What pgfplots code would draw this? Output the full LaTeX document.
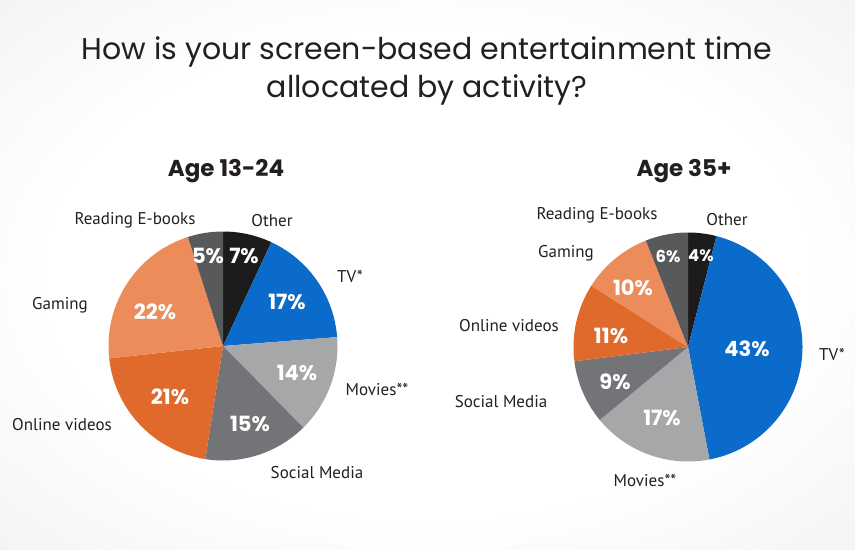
\documentclass[border=0pt]{standalone}
\usepackage{pgfplots}
\pgfplotsset{compat=1.18}
\usepackage{pgfplotstable}
\usepackage{fontspec}
\setmainfont{PT Sans}
\newfontfamily\popp{Poppins}

\definecolor{cTV}{HTML}{0B6BCB}
\definecolor{cMovies}{HTML}{A6A7A9}
\definecolor{cSocial}{HTML}{737477}
\definecolor{cOnline}{HTML}{DF6A2B}
\definecolor{cGaming}{HTML}{EB8C5A}
\definecolor{cReading}{HTML}{58595B}
\definecolor{cOther}{HTML}{1D1B1B}
\definecolor{txt}{HTML}{231F20}

% label, share (%), colour, label position (x,y), percent position (x,y) in picture pixels, percent font size
\pgfplotstableread[col sep=comma]{
label,pct,col,lx,ly,px,py,fs
Other,7,cOther,272,221,244,256,21
TV*,17,cTV,350,277,287,302,21
Movies**,14,cMovies,377,390,297,373,21
Social Media,15,cSocial,317,473,250,424,21
Online videos,21,cOnline,62,425,170,397,21
Gaming,22,cGaming,60,305,155,312,21
Reading E-books,5,cReading,135,220,208,256,21
}\youngdata

\pgfplotstableread[col sep=comma]{
label,pct,col,lx,ly,px,py,fs
Other,4,cOther,727,220,701,256,16.5
TV*,43,cTV,832,355,747,349,21
Movies**,17,cMovies,645,481,662,418,21
Social Media,9,cSocial,501,402,615,382,21
Online videos,11,cOnline,509,326,611,336,21
Gaming,10,cGaming,566,253,633,288,21
Reading E-books,6,cReading,597,215,668,256,16.5
}\olddata

\pgfdeclareradialshading{bgshade}{\pgfpoint{0bp}{0bp}}{%
  color(0bp)=(white); color(22bp)=(white); color(50bp)=(black!9); color(72bp)=(black!14)}

\tikzset{
  lab/.style={font=\fontsize{17bp}{20bp}\selectfont, text=txt, inner sep=0pt, anchor=center},
  pct/.style={font=\popp\bfseries\fontsize{#1bp}{#1bp}\selectfont, text=white, inner sep=0pt, anchor=center},
}

% #1 table, #2 centre x, #3 centre y, #4 radius
\newcommand\drawpie[4]{%
  \pgfplotstablegetrowsof{#1}%
  \pgfmathtruncatemacro\lastrow{\pgfplotsretval-1}%
  \def\tot{0}%
  \pgfplotsforeachungrouped \i in {0,...,\lastrow}{%
    \pgfplotstablegetelem{\i}{pct}\of{#1}%
    \pgfmathsetmacro\tot{\tot+\pgfplotsretval}}%
  \def\cum{0}%
  \pgfplotsforeachungrouped \i in {0,...,\lastrow}{%
    \pgfplotstablegetelem{\i}{pct}\of{#1}\let\pv\pgfplotsretval
    \pgfplotstablegetelem{\i}{col}\of{#1}\let\pc\pgfplotsretval
    \pgfmathsetmacro\sa{90-360*(\cum/\tot)}%
    \pgfmathsetmacro\cum{\cum+\pv}%
    \pgfmathsetmacro\ea{90-360*(\cum/\tot)}%
    \edef\tmp{\noexpand\fill[\pc] (axis cs:#2,#3) -- ++(\sa:#4) arc[start angle=\sa, end angle=\ea, radius=#4] -- cycle;}%
    \tmp
  }%
  \pgfplotsforeachungrouped \i in {0,...,\lastrow}{%
    \pgfplotstablegetelem{\i}{pct}\of{#1}\let\pv\pgfplotsretval
    \pgfplotstablegetelem{\i}{label}\of{#1}\let\plab\pgfplotsretval
    \pgfplotstablegetelem{\i}{lx}\of{#1}\let\plx\pgfplotsretval
    \pgfplotstablegetelem{\i}{ly}\of{#1}\let\ply\pgfplotsretval
    \pgfplotstablegetelem{\i}{px}\of{#1}\let\ppx\pgfplotsretval
    \pgfplotstablegetelem{\i}{py}\of{#1}\let\ppy\pgfplotsretval
    \pgfplotstablegetelem{\i}{fs}\of{#1}\let\pfs\pgfplotsretval
    \edef\tmp{\noexpand\node[lab] at (axis cs:\plx,\ply) {\plab};
      \noexpand\node[pct=\pfs] at (axis cs:\ppx,\ppy) {\pv\noexpand\%};}%
    \tmp
  }%
}

\begin{document}
\begin{tikzpicture}
\useasboundingbox (0,0) rectangle (855bp,550bp);
\shade[shading=bgshade] (0,0) rectangle (855bp,550bp);
\begin{axis}[
  at={(0,0)}, anchor=south west,
  width=855bp, height=550bp, scale only axis,
  xmin=0, xmax=855, ymin=0, ymax=550, y dir=reverse,
  hide axis, clip=false,
]
\node[font=\popp\fontsize{30bp}{38bp}\selectfont, text=txt, align=center, anchor=center]
  at (axis cs:427,71) {How is your screen-based entertainment time\\allocated by activity?};
\node[font=\popp\bfseries\fontsize{23bp}{26bp}\selectfont, text=txt, anchor=center] at (axis cs:226,171) {Age 13-24};
\node[font=\popp\bfseries\fontsize{23bp}{26bp}\selectfont, text=txt, anchor=center] at (axis cs:684,171) {Age 35+};
\drawpie{\youngdata}{223}{346}{114.5bp}
\drawpie{\olddata}{688}{347}{114.5bp}
\end{axis}
\end{tikzpicture}
\end{document}
